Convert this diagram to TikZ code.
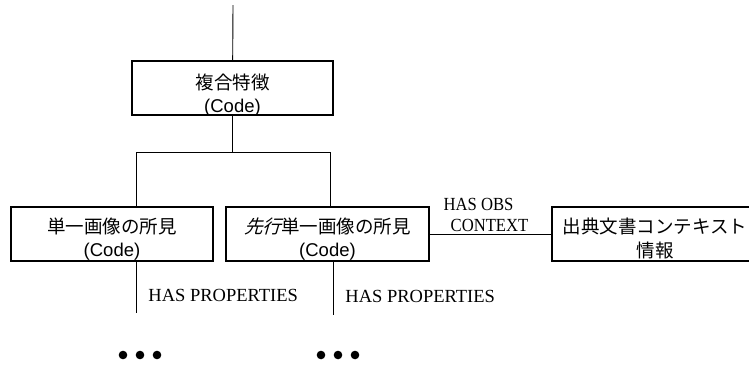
\documentclass[tikz,border=0pt]{standalone}
\usepackage{fontspec}
\setmainfont{Liberation Serif}
\newfontfamily\jpfont{Noto Sans CJK JP}
\newfontfamily\jpslant[FakeSlant=0.3]{Noto Sans CJK JP}
\newfontfamily\codefont{Liberation Sans}
\newfontfamily\narrowfont[FakeStretch=0.9]{Liberation Serif}
\usetikzlibrary{positioning, calc}

\begin{document}
\begin{tikzpicture}[
    x=1pt, y=-1pt,
    font=\fontsize{18.5}{23.5}\selectfont,
    box/.style={
        draw=black,
        line width=1.4pt,
        minimum height=54pt,
        inner sep=0pt
    },
    txt/.style={align=center, inner sep=0pt},
    link/.style={draw=black, line width=0.9pt},
    prop/.style={inner sep=2pt, right=10pt},
    obs/.style={font=\fontsize{18.5}{21}\selectfont\narrowfont, align=center, inner sep=1pt}
]
\useasboundingbox (0,0) rectangle (749,365);

\node[box, minimum width=201pt] (F1) at (232.5, 88) {};
\node[box, minimum width=202pt] (F2) at (112, 234) {};
\node[box, minimum width=203pt] (F3) at (327.5, 234) {};
\node[box, minimum width=206pt] (F4) at (655, 234) {};

\node[txt] (F1t) at ([yshift=-7pt]F1) {{\jpfont 複合特徴}\\{\codefont (Code)}};
\node[txt] (F2t) at ([yshift=-5pt]F2) {{\jpfont 単一画像の所見}\\{\codefont (Code)}};
\node[txt] (F3t) at ([yshift=-5pt]F3) {{\jpslant 先行}{\jpfont 単一画像の所見}\\{\codefont (Code)}};
\node[txt] (F4t) at ([yshift=-4.5pt]F4) {\jpfont 出典文書コンテキスト\\\jpfont 情報};

\coordinate (top) at (233, 5);
\coordinate (JL) at (136, 152);
\coordinate (JR) at (330, 152);
\coordinate (E2) at (136, 313);
\coordinate (E3) at (333, 315);

\draw[link] (top) -- (F1);
\draw[link] (F1.south) -- (F1.south |- JL);
\draw[link] (F2.north -| JL) -- (JL) -- (JR) -- (F3.north -| JR);
\draw[link] (F3.east) -- node[obs, above, xshift=-12pt, yshift=1pt] {HAS OBS\\\hspace*{22pt}CONTEXT} (F4.west);
\draw[link] (F2.south -| E2) -- node[prop, pos=0.65] {HAS PROPERTIES} (E2);
\draw[link] (F3.south -| E3) -- node[prop, pos=0.65] {HAS PROPERTIES} (E3);

\foreach \x in {123, 140, 157, 321, 338, 355}
    \fill (\x, 355) circle (4.3pt);
\end{tikzpicture}
\end{document}
